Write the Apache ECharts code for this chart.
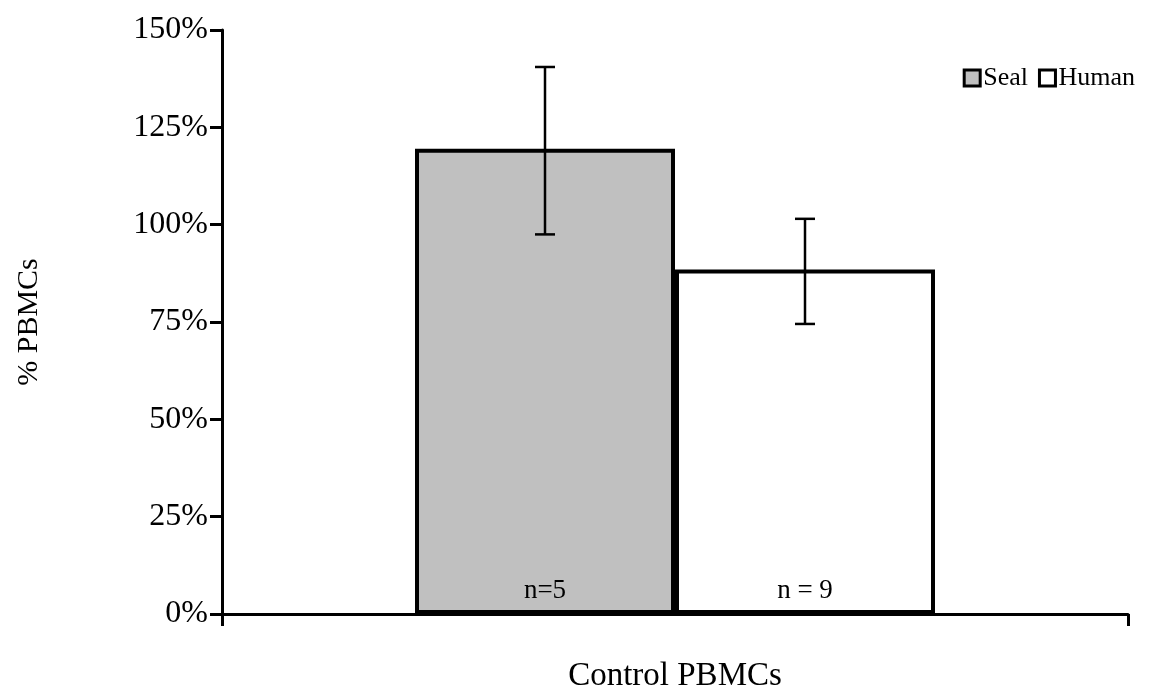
<!DOCTYPE html>
<html><head><meta charset="utf-8">
<script src="https://cdn.jsdelivr.net/npm/echarts@6/dist/echarts.min.js"></script>
<style>html,body{margin:0;background:#fff}#c{width:1154px;height:694px}</style>
</head><body><div id="c"></div>
<script>
const categories = ['Control PBMCs'];
const seriesNames = ['Seal', 'Human'];
const means = [119.5, 88.5];
const errLow = [97.5, 74.5];
const errHigh = [140.5, 101.5];
const nLabels = ['n=5', 'n = 9'];
const colors = ['#c0c0c0', '#ffffff'];

const barW = 260;
const font = 'Liberation Serif';
const chart = echarts.init(document.getElementById('c'));

const bars = seriesNames.map((name, i) => ({
  name, type: 'bar', barWidth: barW, barGap: '0%',
  data: [means[i]],
  itemStyle: { color: colors[i], borderColor: '#000', borderWidth: 4 },
  label: { show: true, position: 'insideBottom', distance: 10, formatter: nLabels[i],
    color: '#000', fontFamily: font, fontSize: 27 }
}));

const errs = seriesNames.map((name, i) => ({
  type: 'custom', z: 5,
  data: [[0, errLow[i], errHigh[i]]],
  renderItem(params, api) {
    const off = (i === 0 ? -1 : 1) * barW / 2;
    const lo = api.coord([api.value(0), api.value(1)]);
    const hi = api.coord([api.value(0), api.value(2)]);
    const x = lo[0] + off, w = 10;
    const st = { stroke: '#000', lineWidth: 2.5 };
    return { type: 'group', children: [
      { type: 'line', shape: { x1: x, y1: lo[1], x2: x, y2: hi[1] }, style: st },
      { type: 'line', shape: { x1: x - w, y1: lo[1], x2: x + w, y2: lo[1] }, style: st },
      { type: 'line', shape: { x1: x - w, y1: hi[1], x2: x + w, y2: hi[1] }, style: st }
    ]};
  }
}));

chart.setOption({
  animation: false,
  grid: { left: 222, right: 26, top: 30, bottom: 80, containLabel: false, outerBoundsMode: 'none' },
  legend: {
    data: seriesNames, right: 14, top: 60, itemWidth: 16, itemHeight: 16, itemGap: 10,
    icon: 'rect',
    textStyle: { fontFamily: font, fontSize: 26, color: '#000', padding: [0, 0, 0, -2] },
    itemStyle: { borderColor: '#000', borderWidth: 3 }
  },
  xAxis: {
    type: 'category', data: categories,
    axisLine: { lineStyle: { color: '#000', width: 3 } },
    axisTick: { show: true, length: 12, lineStyle: { width: 3 } },
    axisLabel: { show: false },
    name: 'Control PBMCs', nameLocation: 'middle', nameGap: 46,
    nameTextStyle: { fontFamily: font, fontSize: 33, color: '#000' }
  },
  yAxis: {
    type: 'value', min: 0, max: 150, interval: 25,
    axisLine: { show: true, lineStyle: { color: '#000', width: 3 } },
    axisTick: { show: true, length: 12, inside: false, lineStyle: { width: 3 } },
    splitLine: { show: false },
    axisLabel: { formatter: '{value}%', fontFamily: font, fontSize: 32, color: '#000', margin: 14 },
    name: '% PBMCs', nameLocation: 'middle', nameGap: 178, nameRotate: 90,
    nameTextStyle: { fontFamily: font, fontSize: 30, color: '#000' }
  },
  series: [...bars, ...errs]
});
</script></body></html>
